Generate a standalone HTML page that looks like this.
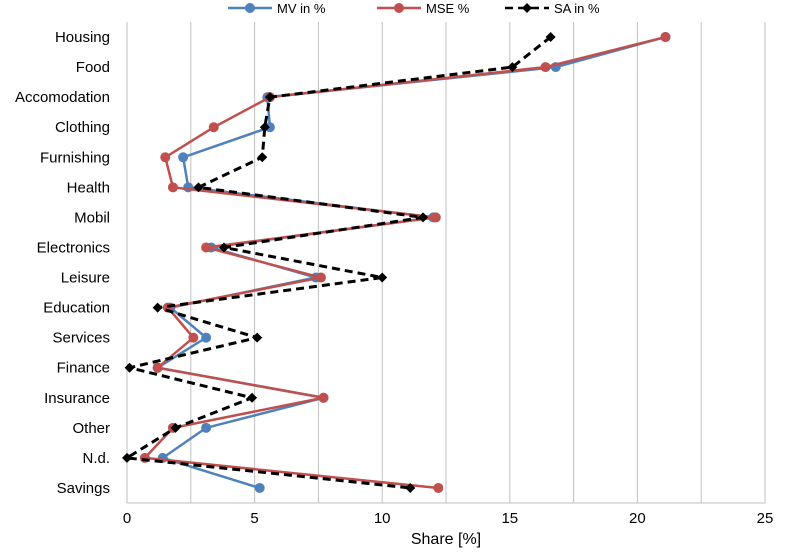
<!DOCTYPE html>
<html><head><meta charset="utf-8"><style>
body{margin:0;background:#fff;font-family:"Liberation Sans",sans-serif}
</style></head><body>
<svg id="chart" width="787" height="552" xmlns="http://www.w3.org/2000/svg" font-family="Liberation Sans, sans-serif"></svg>
<script>
const categories=["Housing","Food","Accomodation","Clothing","Furnishing","Health","Mobil","Electronics","Leisure","Education","Services","Finance","Insurance","Other","N.d.","Savings"];
const mvValues=[21.1,16.8,5.5,5.6,2.2,2.4,12.0,3.3,7.4,1.7,3.1,1.2,7.7,3.1,1.4,5.2];
const mseValues=[21.1,16.4,5.6,3.4,1.5,1.8,12.1,3.1,7.6,1.6,2.6,1.2,7.7,1.8,0.7,12.2];
const saValues=[16.6,15.1,5.6,5.4,5.3,2.8,11.6,3.8,10.0,1.2,5.1,0.1,4.9,1.9,0.0,11.1];
const xTicks=[0,5,10,15,20,25];
const gridTicks=[0,2.5,5,7.5,10,12.5,15,17.5,20,22.5,25];
const svg=document.getElementById('chart');const NS="http://www.w3.org/2000/svg";
const L=127,R=765,T=22,B=503;
const x=v=>L+(v/25)*(R-L);
const band=(B-T)/categories.length;
const y=i=>T+band*(i+0.5);
function el(t,a,p){const e=document.createElementNS(NS,t);for(const k in a)e.setAttribute(k,a[k]);(p||svg).appendChild(e);return e;}
gridTicks.forEach(v=>{const g=el('line',{x1:x(v),x2:x(v),y1:T,y2:B,stroke:'#bfbfbf','stroke-width':1});

});
const ax=el('line',{x1:L,x2:R,y1:B,y2:B,stroke:'#bfbfbf'});


xTicks.forEach(v=>{const t=el('text',{x:x(v),y:B+20,'text-anchor':'middle','font-size':15,fill:'#000'});t.textContent=v;

});
categories.forEach((c,i)=>{const t=el('text',{x:110,y:y(i)+5,'text-anchor':'end','font-size':15,fill:'#000'});t.textContent=c;

});
const xt=el('text',{x:446,y:544,'text-anchor':'middle','font-size':16});xt.textContent="Share [%]";


function series(vals,color,dash,marker,name){
 const pts=vals.map((v,i)=>x(v)+','+y(i)).join(' ');
 const p=el('polyline',{points:pts,fill:'none',stroke:color,'stroke-width':dash?3:2.5,'stroke-dasharray':dash?'8,5':'none'});
 
 
 vals.forEach((v,i)=>{let m;
  if(marker==='circle')m=el('circle',{cx:x(v),cy:y(i),r:5,fill:color});
  else m=el('polygon',{points:`${x(v)},${y(i)-5} ${x(v)+5},${y(i)} ${x(v)},${y(i)+5} ${x(v)-5},${y(i)}`,fill:color});
  
  });
}
series(mvValues,'#4f81bd',false,'circle','mv');
series(mseValues,'#c0504d',false,'circle','mse');
series(saValues,'#000',true,'diamond','sa');
const leg=[["MV in %",'#4f81bd',false,'circle',228],["MSE %",'#c0504d',false,'circle',377],["SA in %",'#000',true,'diamond',505]];
leg.forEach(([lab,c,d,m,lx])=>{const g=el('g',{});
 
 
 el('line',{x1:lx,x2:lx+44,y1:8,y2:8,stroke:c,'stroke-width':2.5,'stroke-dasharray':d?'8,5':'none'},g);
 if(m==='circle')el('circle',{cx:lx+22,cy:8,r:5,fill:c},g);else el('polygon',{points:`${lx+22},3 ${lx+27},8 ${lx+22},13 ${lx+17},8`,fill:c},g);
 const t=el('text',{x:lx+49,y:13,'font-size':13},g);t.textContent=lab;});
</script>
</body></html>
